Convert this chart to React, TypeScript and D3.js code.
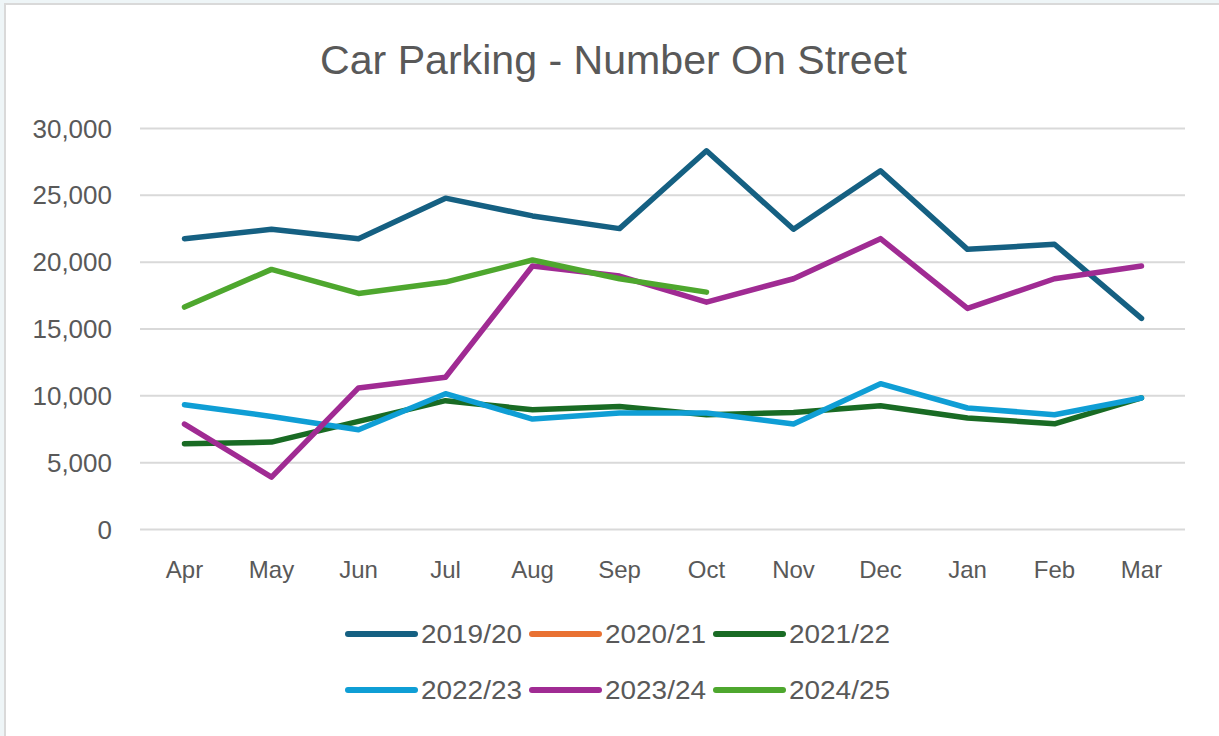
import React from "react";
import * as d3 from "d3";

const months = ["Apr", "May", "Jun", "Jul", "Aug", "Sep", "Oct", "Nov", "Dec", "Jan", "Feb", "Mar"];
const yTicks = [0, 5000, 10000, 15000, 20000, 25000, 30000];
const seriesNames = ["2019/20", "2020/21", "2021/22", "2022/23", "2023/24", "2024/25"];
const seriesColors = ["#156082", "#E97132", "#196B24", "#0F9ED5", "#A02B93", "#4EA72E"];

const v2019: (number | null)[] = [21760, 22460, 21760, 24790, 23460, 22510, 28330, 22460, 26840, 20960, 21340, 15790];
const v2020: (number | null)[] = [null, null, null, null, null, null, null, null, null, null, null, null];
const v2021: (number | null)[] = [6410, 6540, 8090, 9640, 8960, 9210, 8590, 8760, 9260, 8340, 7910, 9840];
const v2022: (number | null)[] = [9340, 8460, 7460, 10160, 8260, 8710, 8710, 7890, 10910, 9090, 8590, 9840];
const v2023: (number | null)[] = [7890, 3920, 10590, 11390, 19710, 18960, 17010, 18760, 21760, 16540, 18760, 19710];
const v2024: (number | null)[] = [16640, 19460, 17660, 18510, 20160, 18760, 17760, null, null, null, null, null];

const seriesValues = [v2019, v2020, v2021, v2022, v2023, v2024];

const FONT = "'Liberation Sans', Arial, sans-serif";
const TEXT = "#595959";

export default function App() {
  const W = 1219;
  const H = 736;
  const x = d3.scalePoint<string>().domain(months).range([184.5, 1141.5]);
  const y = d3.scaleLinear().domain([0, 30000]).range([529.5, 128.5]);
  const line = d3
    .line<number | null>()
    .defined((d) => d !== null)
    .x((_, i) => x(months[i]) as number)
    .y((d) => y(d as number));

  const legendX = [348, 532, 716];
  const legendY = [634, 690];

  return (
    <svg
      width={W}
      height={H}
      style={{ position: "absolute", left: 0, top: 0, display: "block" }}
      fontFamily={FONT}
    >
      <rect x={0} y={0} width={W} height={H} fill="#eef5f7" />
      <rect x={5} y={4} width={W - 4} height={H - 3} fill="#ffffff" stroke="#d9d9d9" strokeWidth={2} />
      <text
        x={613.5}
        y={74}
        textAnchor="middle"
        fontSize={40}
        fill={TEXT}
        textLength={587}
        lengthAdjust="spacingAndGlyphs"
      >
        Car Parking - Number On Street
      </text>
      {yTicks.map((t) => (
        <g key={t}>
          <line x1={140} x2={1185} y1={y(t)} y2={y(t)} stroke="#d9d9d9" strokeWidth={2} />
          <text x={112} y={y(t) + 9} textAnchor="end" fontSize={26} fill={TEXT}>
            {d3.format(",")(t)}
          </text>
        </g>
      ))}
      {months.map((m) => (
        <text key={m} x={x(m)} y={578} textAnchor="middle" fontSize={24} fill={TEXT}>
          {m}
        </text>
      ))}
      {seriesValues.map((vals, i) => (
        <path
          key={seriesNames[i]}
          d={line(vals) || ""}
          fill="none"
          stroke={seriesColors[i]}
          strokeWidth={5.5}
          strokeLinejoin="round"
          strokeLinecap="round"
        />
      ))}
      {seriesNames.map((name, i) => {
        const lx = legendX[i % 3];
        const ly = legendY[Math.floor(i / 3)];
        return (
          <g key={name}>
            <line x1={lx} x2={lx + 67} y1={ly} y2={ly} stroke={seriesColors[i]} strokeWidth={6} strokeLinecap="round" />
            <text
              x={lx + 73}
              y={ly + 9}
              fontSize={26}
              fill={TEXT}
              textLength={101}
              lengthAdjust="spacingAndGlyphs"
            >
              {name}
            </text>
          </g>
        );
      })}
    </svg>
  );
}
